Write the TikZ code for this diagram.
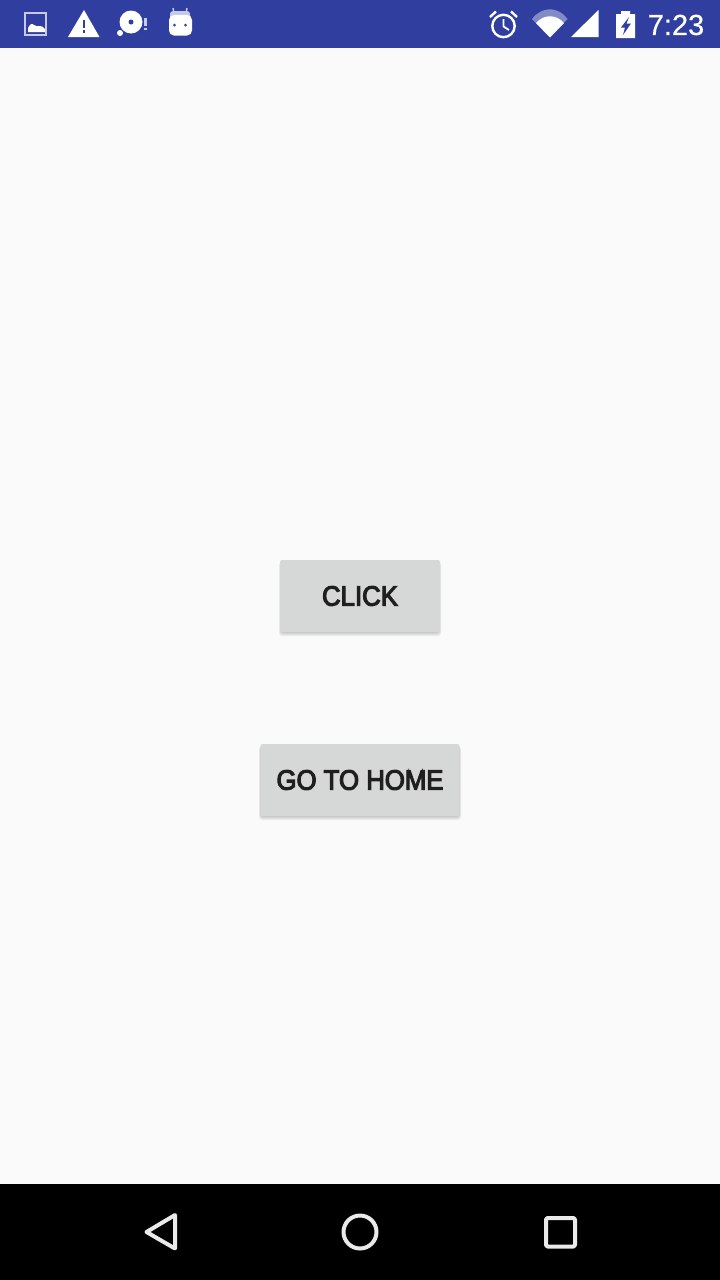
\documentclass[tikz,border=0pt]{standalone}
\usepackage{fontspec}
\setmainfont{Liberation Sans}
\newfontfamily\btnfont[FakeStretch=0.92,FakeBold=4]{Liberation Sans}
\newfontfamily\clockfont[FakeStretch=1.0,FakeBold=0.35]{Liberation Sans}
\usepackage{tikz}
\usetikzlibrary{positioning}
\definecolor{barblue}{HTML}{303F9F}
\definecolor{screenbg}{HTML}{FAFAFA}
\definecolor{btngray}{HTML}{D6D7D7}
\definecolor{btntext}{HTML}{1F1F1F}
\definecolor{navline}{HTML}{EAEAEA}
\definecolor{iconpale}{HTML}{C5CAE9}
\tikzset{
	btn/.style={fill=btngray, draw=none, rounded corners=2pt, inner sep=0pt, text=btntext,
		font=\btnfont\fontsize{28}{28}\selectfont},
	btnshadow/.style={fill=black, fill opacity=.05, draw=none, rounded corners=3pt},
	navicon/.style={draw=navline, line width=4pt, line join=round},
	staticon/.style={fill=white, draw=none},
}
\begin{document}
\begin{tikzpicture}[x=1pt, y=-1pt]
	\useasboundingbox (0,0) rectangle (720,1280);
	\fill[screenbg] (0,0) rectangle (720,1280);
	\fill[barblue] (0,0) rectangle (720,48);
	\fill[black] (0,1184) rectangle (720,1280);
	% button shadows
	\foreach \d in {0,1,2,3,4}{
		\fill[btnshadow] (281-\d*.5,562) rectangle (439+\d*.5,632+\d);
		\fill[btnshadow] (261-\d*.5,746) rectangle (459+\d*.5,816+\d);
	}
	% buttons
	\node[btn, minimum width=160pt, minimum height=72pt] (click) at (360,596) {\raisebox{-1pt}{CLICK}};
	\node[btn, minimum width=199pt, minimum height=72pt] (gohome) at (360,780) {\raisebox{-1pt}{GO TO HOME}};
	% left status icons
	\draw[iconpale, line width=2pt] (25,13) rectangle (46,35);
	\fill[white] (28,32) -- (28,28) .. controls (30,24) and (32,23) .. (34,25) .. controls (36,27) and (38,26) .. (40,26) .. controls (42,26) and (43,27) .. (45,29) -- (45,32) -- cycle;
	\fill[staticon] (68,37) -- (84,10) -- (99.5,37) -- cycle;
	\fill[barblue] (82.6,20) rectangle (85.4,28);
	\fill[barblue] (82.6,30) rectangle (85.4,33);
	\fill[staticon] (131,22) circle (11.5pt);
	\fill[barblue] (131,22) circle (2.5pt);
	\fill[staticon] (120,33) circle (3pt);
	\fill[iconpale] (143.5,18) rectangle (146.5,26);
	\fill[iconpale] (143.5,27.5) rectangle (146.5,30);
	\fill[iconpale, rounded corners=3pt] (170,11) -- (190,11) -- (190,20) -- (170,20) -- cycle;
	\draw[iconpale, line width=1.4pt] (174,13) -- (173,8);
	\draw[iconpale, line width=1.4pt] (186,13) -- (187,8);
	\fill[staticon, rounded corners=5pt] (169,15) rectangle (192,35.5);
	\fill[barblue] (174.5,25) circle (1.5pt);
	\fill[barblue] (185.5,25) circle (1.5pt);
	% right status icons
	\draw[white, line width=2.4pt] (503.5,26) circle (11.2pt);
	\draw[white, line width=1.8pt] (503.5,19) -- (503.5,26.5) -- (509,30);
	\draw[white, line width=2.4pt] (490,17) -- (496,11.5);
	\draw[white, line width=2.4pt] (517,17) -- (511,11.5);
	\fill[white, fill opacity=.4] (550,37.5) -- (532,19) .. controls (542,6) and (558,6) .. (567.5,19) -- cycle;
	\fill[staticon] (550,37.5) -- (536,23) .. controls (544,14) and (556,14) .. (564,23) -- cycle;
	\fill[staticon] (571,37) -- (598.5,10) -- (598.5,37) -- cycle;
	\fill[staticon] (616,14) -- (621,14) -- (621,11) -- (630,11) -- (630,14) -- (635,14) -- (635,38) -- (616,38) -- cycle;
	\fill[barblue] (629,17) -- (621,27.5) -- (625,27.5) -- (623,35) -- (631,23.5) -- (626.5,23.5) -- cycle;
	\node[text=white, inner sep=0pt, font=\clockfont\fontsize{29}{29}\selectfont] (clock) at (676,25) {7:23};
	% nav bar
	\draw[navicon] (146.5,1232) -- (175,1215) -- (175,1248.5) -- cycle;
	\node[navicon, circle, minimum size=33pt, inner sep=0pt] (home) at (360,1232) {};
	\draw[navicon, rounded corners=1.5pt] (546,1218) rectangle (575,1246.5);
\end{tikzpicture}
\end{document}
